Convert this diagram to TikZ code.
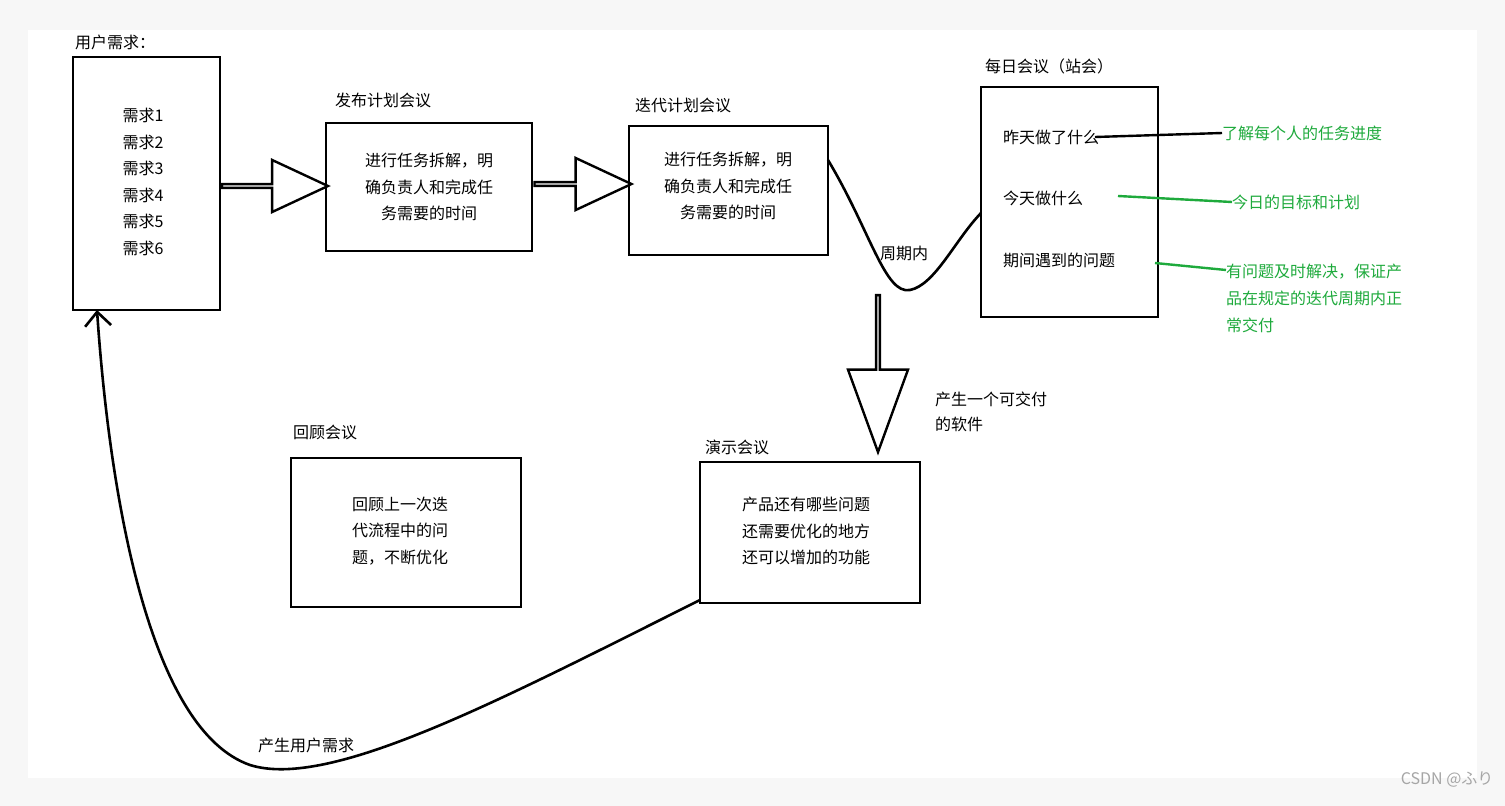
\documentclass[tikz,border=0pt]{standalone}
\usepackage{fontspec}
\setmainfont{Noto Sans CJK SC}
\usetikzlibrary{shapes.arrows,arrows.meta}
\definecolor{note}{RGB}{30,170,60}
\tikzset{
  box/.style={draw, line width=2.6pt},
  lbl/.style={anchor=west, inner sep=0pt},
  txt/.style={align=center, inner sep=0pt, font=\fontsize{16}{26.5}\selectfont},
  green/.style={lbl, text=note},
  blk/.style={single arrow, draw, line width=2.4pt, inner sep=0pt, single arrow head extend=16pt, single arrow tip angle=50}
}
\begin{document}
\begin{tikzpicture}[x=1pt,y=-1pt,font=\fontsize{16}{26}\selectfont]
\useasboundingbox (0,0) rectangle (1505,806);
\fill[gray!6] (0,0) rectangle (1505,806);
\fill[white] (28,30) rectangle (1477,778);

% boxes
\draw[box] (73,57) rectangle (220,310);
\node[lbl] (userlbl) at (75,42) {用户需求：};
\node[txt] (reqs) at (143,182) {需求1\\需求2\\需求3\\需求4\\需求5\\需求6};

\draw[box] (326,123) rectangle (532,251);
\node[lbl] (pubLbl) at (335,100) {发布计划会议};
\node[txt] (pub) at (429,187) {进行任务拆解，明\\确负责人和完成任\\务需要的时间};

\draw[box] (629,126) rectangle (828,255);
\node[lbl] (iterLbl) at (635,105) {迭代计划会议};
\node[txt] (iter) at (728,186) {进行任务拆解，明\\确负责人和完成任\\务需要的时间};

\draw[box] (981,87) rectangle (1158,317);
\node[lbl] (dailyLbl) at (985,66) {每日会议（站会）};
\node[lbl] (yest) at (1003,137) {昨天做了什么};
\node[lbl] (today) at (1003,198) {今天做什么};
\node[lbl] (prob) at (1003,260) {期间遇到的问题};

\node[green] (g1) at (1222,133) {了解每个人的任务进度};
\node[green] (g2) at (1232,202) {今日的目标和计划};
\node[green, align=left, font=\fontsize{16}{27}\selectfont] (g3) at (1226,298) {有问题及时解决，保证产\\品在规定的迭代周期内正\\常交付};
\draw[line width=2.4pt] (1095,137) -- (g1.west);
\draw[note, line width=2.4pt] (1118,196) -- (g2.west);
\draw[note, line width=2.4pt] (1155,263) -- (1226,270);

\draw[box] (700,462) rectangle (920,603);
\node[lbl] (demoLbl) at (705,447) {演示会议};
\node[txt] (demo) at (806,531) {产品还有哪些问题\\还需要优化的地方\\还可以增加的功能};

\draw[box] (291,458) rectangle (521,607);
\node[lbl] (retroLbl) at (293,432) {回顾会议};
\node[txt] (retro) at (400,531) {回顾上一次迭\\代流程中的问\\题，不断优化};

% block arrows
\node[blk, minimum height=106pt, minimum width=52pt] (a1) at (273,186) {};
\node[blk, minimum height=97pt, minimum width=52pt] (a2) at (581,184) {};
\node[blk, rotate=-90, minimum height=157pt, minimum width=60pt, single arrow head extend=18pt, single arrow tip angle=40] (a3) at (878,371) {};
\node[lbl, align=left, font=\fontsize{16}{25}\selectfont] (soft) at (935,412) {产生一个可交付\\的软件};

% curves
\draw[line width=2.6pt] (828,160) .. controls (870,230) and (885,295) .. (910,290) .. controls (935,285) and (955,240) .. (981,213);
\node[lbl] (cycle) at (880,253) {周期内};
\draw[line width=2.6pt, -{Straight Barb[length=14pt,width=26pt]}] (700,600) .. controls (500,700) and (330,790) .. (250,765) .. controls (150,730) and (110,500) .. (97,310);
\node[lbl] (back) at (258,745) {产生用户需求};

\node[anchor=east, text=gray!70, font=\fontsize{16}{20}\selectfont] (wm) at (1497,780) {CSDN @ふり};
\end{tikzpicture}
\end{document}
